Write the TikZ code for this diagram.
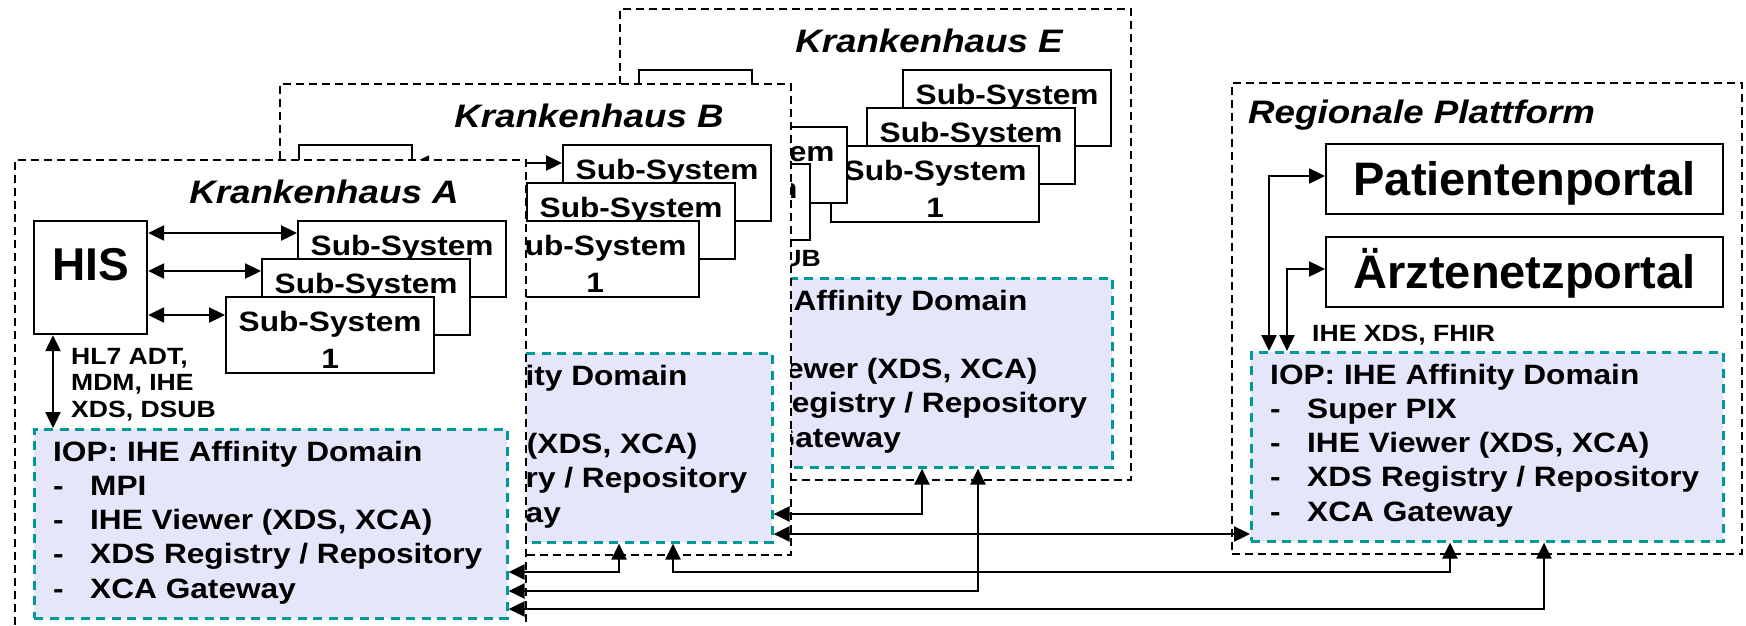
\documentclass[tikz,border=0pt]{standalone}
\usepackage{fontspec}
\setmainfont{Liberation Sans}
\newfontfamily\fwide[FakeStretch=1.13]{Liberation Sans}
\newfontfamily\fplain{Liberation Sans}
\usetikzlibrary{arrows.meta}

\definecolor{iopfill}{RGB}{230,230,250}
\definecolor{iopline}{RGB}{0,153,153}

% font sizes
\newcommand\ftitle{\fwide\bfseries\itshape\fontsize{32.5}{38}\selectfont}
\newcommand\fsub{\fwide\bfseries\fontsize{28}{37}\selectfont}
\newcommand\fiop{\fwide\bfseries\fontsize{28}{34.3}\selectfont}
\newcommand\flabel{\fwide\bfseries\fontsize{23.5}{26.5}\selectfont}
\newcommand\fhis{\fplain\bfseries\fontsize{46}{50}\selectfont}
\newcommand\fportal{\fplain\bfseries\fontsize{47}{52}\selectfont}

% text blocks
\newcommand\SubText{\begin{tabular}[t]{@{}c@{}}Sub-System\\ 1\end{tabular}}
\newcommand\IopItem[1]{\makebox[37pt][l]{-}#1}
\newcommand\IOPList[4]{\begin{tabular}[t]{@{}l@{}}IOP: IHE Affinity Domain\\
  \IopItem{#1}\\ \IopItem{#2}\\ \IopItem{#3}\\ \IopItem{#4}\end{tabular}}

\tikzset{
  hospital/.style={draw=black, fill=white, line width=1.7pt,
    dash pattern=on 8pt off 5pt, inner sep=0pt,
    minimum width=511pt, minimum height=471pt},
  hisbox/.style={draw=black, fill=white, line width=2.2pt, inner sep=0pt,
    minimum width=113pt, minimum height=113pt, font=\fhis,
    text height=30pt, text depth=25pt},
  subbox/.style={draw=black, fill=white, line width=2.2pt, inner sep=0pt,
    minimum width=208pt, minimum height=76pt, font=\fsub,
    text height=20pt, text depth=27pt},
  portal/.style={draw=black, fill=white, line width=2.2pt, inner sep=0pt,
    minimum width=397pt, minimum height=70pt, font=\fportal,
    text height=33pt, text depth=0pt},
  iopbox/.style={draw=iopline, fill=iopfill, line width=2.6pt,
    dash pattern=on 9pt off 6.5pt, inner sep=0pt,
    minimum width=473pt, minimum height=189pt},
  ioptext/.style={font=\fiop, inner sep=0pt, anchor=base west},
  titletext/.style={font=\ftitle, inner sep=0pt},
  proto/.style={font=\flabel, inner sep=0pt, anchor=base west},
  link/.style={line width=2.4pt,
    {Triangle[length=16pt,width=15pt]}-{Triangle[length=16pt,width=15pt]}},
}

% one hospital: prefix, shift x, shift y, letter
\newcommand\Klinik[4]{%
  \begin{scope}[shift={(#2,#3)}]
    \node[hospital, anchor=north west] (#1-frame) at (14,159) {};
    \node[titletext, anchor=base] (#1-title) at (324,203) {Krankenhaus #4};
    \node[hisbox, anchor=north west] (#1-his) at (33,220) {HIS};
    \node[subbox, anchor=north west] (#1-s1) at (297,220) {\SubText};
    \node[subbox, anchor=north west] (#1-s2) at (261,258) {\SubText};
    \node[subbox, anchor=north west] (#1-s3) at (225,296) {\SubText};
    \node[proto] (#1-proto) at (71,364)
      {\begin{tabular}[t]{@{}l@{}}HL7 ADT,\\ MDM, IHE\\ XDS, DSUB\end{tabular}};
    \node[iopbox, anchor=north west] (#1-iop) at (33,428) {};
  \end{scope}
  \node[ioptext] (#1-ioptxt) at ([xshift=20pt,yshift=-33pt]#1-iop.north west)
    {\IOPList{MPI}{IHE Viewer (XDS, XCA)}{XDS Registry / Repository}{XCA Gateway}};
}

% links from HIS to its sub-systems and to the IOP box
\newcommand\KlinikLinks[4]{%
  \path ([yshift=-#2pt]#1-s1.north west) coordinate (#1-p1)
        ([yshift=-#3pt]#1-s2.north west) coordinate (#1-p2)
        ([yshift=-#4pt]#1-s3.north west) coordinate (#1-p3);
  \draw[link] (#1-his.east |- #1-p1) -- (#1-p1);
  \draw[link] (#1-his.east |- #1-p2) -- (#1-p2);
  \draw[link] (#1-his.east |- #1-p3) -- (#1-p3);
  \draw[link] ([xshift=20pt]#1-his.south west) -- ([xshift=20pt]#1-iop.north west);
}

\begin{document}
\begin{tikzpicture}[x=1pt, y=-1pt]
\useasboundingbox (0,0) rectangle (1746,625);

% hospital E (back)
\Klinik{e}{605}{-151}{E}
\node[subbox, anchor=north west] (e-x1) at (638,126) {\SubText};
\node[subbox, anchor=north west] (e-x2) at (601,163) {\SubText};

% hospital B
\Klinik{b}{265}{-76}{B}
\KlinikLinks{b}{19}{19}{19}

% hospital A (front)
\Klinik{a}{0}{0}{A}
\KlinikLinks{a}{13}{13}{19}

% regional platform
\node[hospital, anchor=north west, minimum width=510pt] (r-frame) at (1231,82) {};
\node[titletext, anchor=base west] (r-title) at (1248,123) {Regionale Plattform};
\node[portal, anchor=north west] (r-pp) at (1325,143) {Patientenportal};
\node[portal, anchor=north west] (r-ap) at (1325,236) {Ärztenetzportal};
\node[proto] (r-proto) at (1312,341) {IHE XDS, FHIR};
\node[iopbox, anchor=north west, minimum width=472pt] (r-iop) at (1250,351) {};
\node[ioptext] (r-ioptxt) at ([xshift=20pt,yshift=-33pt]r-iop.north west)
  {\IOPList{Super PIX}{IHE Viewer (XDS, XCA)}{XDS Registry / Repository}{XCA Gateway}};

\coordinate (r-k1) at (1269,176);
\coordinate (r-k2) at (1287,269);
\draw[link] (r-iop.north -| r-k1) |- (r-pp.west |- r-k1);
\draw[link] (r-iop.north -| r-k2) |- (r-ap.west |- r-k2);

% links between the affinity domains
\coordinate (j1) at (922,514);
\coordinate (j2) at (1000,534);
\coordinate (j3) at (619,572);
\coordinate (j4a) at (673,572);
\coordinate (j4b) at (1450,572);
\coordinate (j5) at (978,591);
\coordinate (j6) at (1544,609);
\draw[link] (e-iop.south -| j1) |- (b-iop.east |- j1);
\draw[link] (b-iop.east |- j2) -- (r-iop.west |- j2);
\draw[link] (b-iop.south -| j3) |- (a-iop.east |- j3);
\draw[link] (b-iop.south -| j4a) -- (j4a) -- (j4b) -- (r-iop.south -| j4b);
\draw[link] (e-iop.south -| j5) |- (a-iop.east |- j5);
\draw[link] (r-iop.south -| j6) |- (a-iop.east |- j6);
\end{tikzpicture}
\end{document}
